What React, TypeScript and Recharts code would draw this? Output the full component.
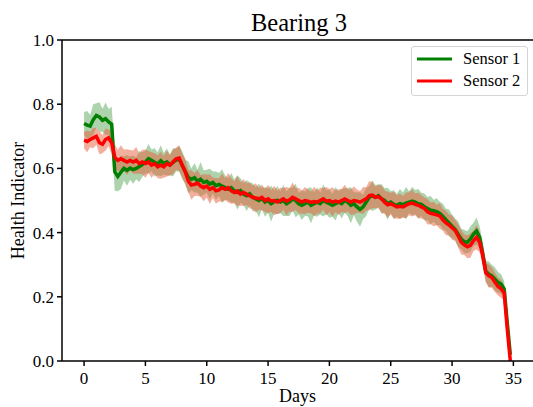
import { Area, ComposedChart, Legend, Line, ReferenceLine, XAxis, YAxis } from "recharts"

const FONT = "'Liberation Serif', serif"
const STEP = 0.25 // days between samples

// Health indicator, sensor 1 (green), one value every 0.25 day from day 0
const sensor1 = [
  0.740, 0.735, 0.732, 0.752, 0.765, 0.760, 0.750, 0.755,
  0.745, 0.738, 0.590, 0.575, 0.588, 0.600, 0.594, 0.601,
  0.596, 0.600, 0.606, 0.612, 0.620, 0.630, 0.625, 0.619,
  0.614, 0.624, 0.615, 0.620, 0.611, 0.619, 0.626, 0.630,
  0.610, 0.590, 0.572, 0.566, 0.571, 0.560, 0.566, 0.556,
  0.560, 0.551, 0.556, 0.546, 0.550, 0.545, 0.540, 0.535,
  0.540, 0.530, 0.525, 0.531, 0.520, 0.515, 0.521, 0.510,
  0.505, 0.500, 0.506, 0.495, 0.500, 0.490, 0.496, 0.501,
  0.495, 0.500, 0.490, 0.496, 0.505, 0.500, 0.490, 0.485,
  0.490, 0.495, 0.485, 0.490, 0.495, 0.490, 0.500, 0.495,
  0.490, 0.485, 0.490, 0.495, 0.490, 0.500, 0.495, 0.485,
  0.490, 0.480, 0.472, 0.480, 0.495, 0.510, 0.515, 0.510,
  0.515, 0.505, 0.500, 0.490, 0.495, 0.488, 0.485, 0.490,
  0.487, 0.492, 0.495, 0.498, 0.495, 0.490, 0.488, 0.480,
  0.475, 0.470, 0.468, 0.465, 0.460, 0.450, 0.440, 0.430,
  0.420, 0.410, 0.395, 0.380, 0.372, 0.370, 0.380, 0.395,
  0.405, 0.385, 0.335, 0.280, 0.270, 0.265, 0.255, 0.245,
  0.240, 0.225, 0.120, 0.020,
]

// Health indicator, sensor 2 (red)
const sensor2 = [
  0.688, 0.684, 0.690, 0.695, 0.700, 0.680, 0.675, 0.690,
  0.695, 0.680, 0.635, 0.625, 0.630, 0.625, 0.620, 0.625,
  0.620, 0.625, 0.615, 0.620, 0.615, 0.620, 0.610, 0.615,
  0.605, 0.610, 0.605, 0.615, 0.610, 0.620, 0.630, 0.632,
  0.610, 0.590, 0.560, 0.548, 0.550, 0.555, 0.545, 0.540,
  0.545, 0.535, 0.540, 0.530, 0.533, 0.540, 0.535, 0.540,
  0.530, 0.525, 0.530, 0.520, 0.525, 0.520, 0.515, 0.510,
  0.508, 0.505, 0.510, 0.500, 0.505, 0.498, 0.500, 0.495,
  0.500, 0.505, 0.498, 0.502, 0.510, 0.505, 0.500, 0.495,
  0.500, 0.498, 0.494, 0.497, 0.495, 0.500, 0.505, 0.498,
  0.500, 0.495, 0.498, 0.495, 0.500, 0.505, 0.500, 0.495,
  0.500, 0.498, 0.495, 0.500, 0.505, 0.515, 0.517, 0.510,
  0.512, 0.505, 0.495, 0.487, 0.490, 0.485, 0.480, 0.482,
  0.480, 0.485, 0.490, 0.492, 0.488, 0.485, 0.480, 0.475,
  0.465, 0.460, 0.458, 0.455, 0.452, 0.440, 0.430, 0.424,
  0.415, 0.407, 0.390, 0.370, 0.362, 0.356, 0.360, 0.375,
  0.385, 0.370, 0.330, 0.275, 0.265, 0.260, 0.245, 0.232,
  0.225, 0.212, 0.100, 0.000,
]

// half width of the shaded band around each sensor
const spread1 = [
  0.036, 0.044, 0.034, 0.048, 0.038, 0.046, 0.036, 0.050,
  0.040, 0.054, 0.060, 0.046, 0.052, 0.038, 0.048, 0.036,
  0.044, 0.034, 0.048, 0.038, 0.036, 0.046, 0.034, 0.044,
  0.036, 0.048, 0.034, 0.042, 0.032, 0.044, 0.036, 0.040,
  0.044, 0.036, 0.050, 0.034, 0.046, 0.036, 0.054, 0.038,
  0.036, 0.048, 0.034, 0.044, 0.036, 0.052, 0.038, 0.034,
  0.046, 0.036, 0.054, 0.038, 0.034, 0.048, 0.036, 0.044,
  0.036, 0.052, 0.034, 0.046, 0.038, 0.056, 0.036, 0.044,
  0.034, 0.048, 0.038, 0.044, 0.036, 0.052, 0.034, 0.046,
  0.038, 0.044, 0.056, 0.036, 0.046, 0.034, 0.050, 0.038,
  0.044, 0.036, 0.052, 0.034, 0.046, 0.038, 0.044, 0.056,
  0.036, 0.046, 0.054, 0.038, 0.044, 0.034, 0.048, 0.038,
  0.036, 0.046, 0.038, 0.050, 0.034, 0.044, 0.036, 0.046,
  0.038, 0.050, 0.034, 0.044, 0.038, 0.046, 0.036, 0.042,
  0.036, 0.044, 0.034, 0.042, 0.036, 0.040, 0.034, 0.042,
  0.036, 0.034, 0.040, 0.032, 0.036, 0.034, 0.040, 0.036,
  0.042, 0.034, 0.036, 0.032, 0.040, 0.034, 0.036, 0.032,
  0.030, 0.024, 0.014, 0.008,
]

const spread2 = [
  0.026, 0.034, 0.024, 0.032, 0.026, 0.036, 0.028, 0.034,
  0.026, 0.036, 0.040, 0.032, 0.042, 0.034, 0.040, 0.032,
  0.036, 0.042, 0.032, 0.038, 0.044, 0.034, 0.040, 0.032,
  0.036, 0.042, 0.034, 0.040, 0.032, 0.038, 0.034, 0.040,
  0.036, 0.042, 0.034, 0.046, 0.036, 0.040, 0.034, 0.042,
  0.036, 0.046, 0.032, 0.040, 0.036, 0.044, 0.034, 0.046,
  0.040, 0.034, 0.046, 0.036, 0.042, 0.034, 0.040, 0.036,
  0.046, 0.034, 0.040, 0.036, 0.044, 0.034, 0.046, 0.036,
  0.040, 0.034, 0.044, 0.036, 0.046, 0.034, 0.040, 0.036,
  0.042, 0.036, 0.034, 0.046, 0.036, 0.040, 0.034, 0.044,
  0.036, 0.046, 0.034, 0.040, 0.036, 0.044, 0.034, 0.040,
  0.044, 0.036, 0.034, 0.042, 0.036, 0.046, 0.040, 0.034,
  0.036, 0.042, 0.036, 0.040, 0.034, 0.042, 0.036, 0.040,
  0.034, 0.040, 0.036, 0.042, 0.034, 0.040, 0.036, 0.034,
  0.040, 0.034, 0.038, 0.032, 0.040, 0.034, 0.038, 0.032,
  0.038, 0.032, 0.036, 0.038, 0.032, 0.036, 0.038, 0.032,
  0.038, 0.032, 0.034, 0.030, 0.036, 0.032, 0.030, 0.028,
  0.028, 0.022, 0.012, 0.004,
]

const xTicks = [0, 5, 10, 15, 20, 25, 30, 35]
const yTicks = [0, 0.2, 0.4, 0.6, 0.8, 1.0]

const data = sensor1.map((v, i) => ({
  day: i * STEP,
  s1: v,
  s2: sensor2[i],
  band1: [v - spread1[i], v + spread1[i]],
  band2: [Math.max(0, sensor2[i] - spread2[i]), sensor2[i] + spread2[i]],
}))

function SensorLegend({ payload }: any) {
  const items = (payload || []).filter((p: any) => p.type !== "none")
  return (
    <div
      style={{
        border: "1px solid #d4d4d4",
        borderRadius: 3,
        background: "rgba(255,255,255,0.85)",
        padding: "1px 5px 3px 5px",
        fontFamily: FONT,
        fontSize: 16.5,
        color: "#000",
      }}
    >
      {items.map((it: any) => (
        <div key={it.value} style={{ display: "flex", alignItems: "center", height: 22 }}>
          <svg width={35} height={4}>
            <line x1={0} x2={35} y1={2} y2={2} stroke={it.color} strokeWidth={3} />
          </svg>
          <span style={{ marginLeft: 11 }}>{it.value}</span>
        </div>
      ))}
    </div>
  )
}

export default function App() {
  const tickStyle = { fill: "#000", fontSize: 17, fontFamily: FONT }
  return (
    <div style={{ position: "absolute", left: 0, top: 0, background: "#fff" }}>
      <ComposedChart width={533} height={407} data={data} margin={{ top: 40, right: 0, bottom: 0, left: 0 }}>
        <text x={299} y={31} textAnchor="middle" fontFamily={FONT} fontSize={24.5} fill="#000">
          Bearing 3
        </text>
        <XAxis
          dataKey="day"
          type="number"
          domain={[-1.8, 36.6]}
          ticks={xTicks}
          height={46}
          tick={tickStyle}
          tickSize={5}
          tickMargin={6}
          stroke="#000"
          strokeWidth={1.5}
          label={{ value: "Days", position: "insideBottom", offset: 5, fill: "#000", fontSize: 18, fontFamily: FONT }}
        />
        <YAxis
          type="number"
          domain={[0, 1]}
          ticks={yTicks}
          width={62}
          allowDataOverflow
          tick={tickStyle}
          tickSize={5}
          tickMargin={3}
          tickFormatter={(v: number) => v.toFixed(1)}
          stroke="#000"
          strokeWidth={1.5}
          label={{ value: "Health Indicator", angle: -90, position: "center", dx: -13, fill: "#000", fontSize: 18, fontFamily: FONT }}
        />
        <ReferenceLine y={1} stroke="#000" strokeWidth={1.5} />
        <Area dataKey="band1" type="linear" stroke="none" fill="#5aa85a" fillOpacity={0.5} legendType="none" isAnimationActive={false} />
        <Line dataKey="s1" name="Sensor 1" type="linear" stroke="#008000" strokeWidth={3.5} dot={false} isAnimationActive={false} />
        <Area dataKey="band2" type="linear" stroke="none" fill="#e8603c" fillOpacity={0.5} legendType="none" isAnimationActive={false} />
        <Line dataKey="s2" name="Sensor 2" type="linear" stroke="#ff0000" strokeWidth={3.5} dot={false} isAnimationActive={false} />
        <Legend
          layout="vertical"
          align="center"
          verticalAlign="middle"
          wrapperStyle={{ top: 46, left: 411, width: 117 }}
          content={<SensorLegend />}
        />
      </ComposedChart>
    </div>
  )
}
